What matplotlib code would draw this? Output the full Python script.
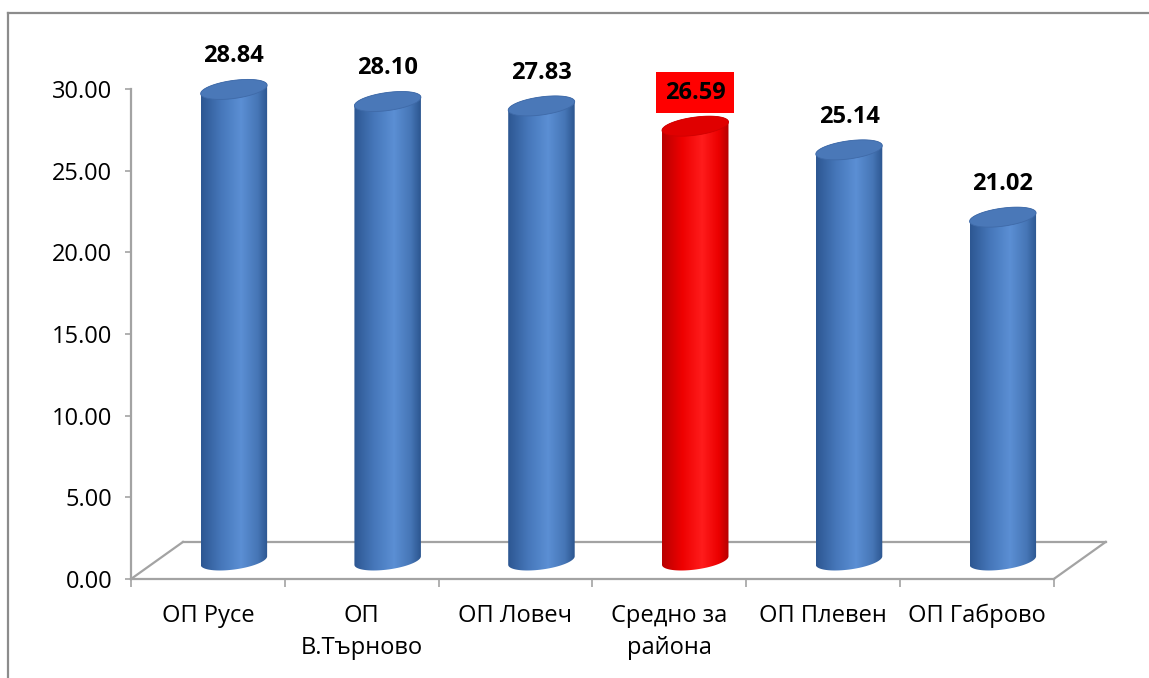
import numpy as np
import matplotlib
matplotlib.use("Agg")
import matplotlib.pyplot as plt
from matplotlib.colors import LinearSegmentedColormap
from matplotlib.patches import Polygon
from matplotlib.lines import Line2D

plt.rcParams['font.family'] = ['Open Sans', 'DejaVu Sans']

# данни
categories = ['ОП Русе', 'ОП\nВ.Търново', 'ОП Ловеч', 'Средно за\nрайона', 'ОП Плевен', 'ОП Габрово']
values = [28.84, 28.10, 27.83, 26.59, 25.14, 21.02]
highlight = [False, False, False, True, False, False]
yticks = [0, 5, 10, 15, 20, 25, 30]

# 3D наклон на пода (в единици категория / стойност)
DX, DY = 0.338, 2.27
RX, RD = 0.196, 0.27       # радиус по x и по дълбочина
GRAY = '#A3A3A3'
FS = 17

blue_cmap = LinearSegmentedColormap.from_list('b', [
    (0.0, '#2D5792'), (0.3, '#4677BA'), (0.6, '#5B8FD4'), (0.85, '#4676B6'), (1.0, '#2C5690')])
red_cmap = LinearSegmentedColormap.from_list('r', [
    (0.0, '#B80000'), (0.3, '#EE0000'), (0.6, '#FF1C1C'), (0.85, '#EC0000'), (1.0, '#B50000')])

fig = plt.figure(figsize=(11.49, 6.78), dpi=100)
ax = fig.add_axes([0.1140, 0.1460, 0.870, 0.795])
ax.set_xlim(0, 6.5)
ax.set_ylim(0, 33)


def ellipse(cx, cy, th):
    x = cx + RX * np.cos(th) + RD * DX * np.sin(th)
    y = cy + RD * DY * np.sin(th)
    return x, y


# под
n = len(categories)
ax.plot([DX, n + DX], [DY, DY], color=GRAY, lw=1.6, zorder=1, clip_on=False)
ax.plot([0, DX], [0, DY], color=GRAY, lw=1.6, zorder=1, clip_on=False)
ax.plot([n, n + DX], [0, DY], color=GRAY, lw=1.6, zorder=1, clip_on=False)

th0 = np.arctan2(RD * DX * 153.8, RX * 153.8)
for i, (v, hl) in enumerate(zip(values, highlight)):
    cx = i + 0.5 + DX / 2
    y0 = DY / 2
    y1 = v + DY / 2
    bx, by = ellipse(cx, y0, np.linspace(th0, th0 - np.pi, 60))
    tx, ty = ellipse(cx, y1, np.linspace(th0 - np.pi, th0 - 2 * np.pi, 60))
    body = Polygon(np.column_stack([np.r_[bx, tx], np.r_[by, ty]]),
                   closed=True, facecolor='none', edgecolor='none')
    ax.add_patch(body)
    xmin, xmax = np.r_[bx, tx].min(), np.r_[bx, tx].max()
    grad = np.linspace(0, 1, 200)[None, :]
    im = ax.imshow(grad, extent=[xmin, xmax, y0 - 1, y1 + 1], aspect='auto',
                   cmap=red_cmap if hl else blue_cmap, zorder=2, origin='lower',
                   interpolation='bilinear')
    im.set_clip_path(body)
    cx_, cy_ = ellipse(cx, y1, np.linspace(0, 2 * np.pi, 100))
    ax.add_patch(Polygon(np.column_stack([cx_, cy_]), closed=True,
                         facecolor='#E00000' if hl else '#4A78B8',
                         edgecolor='#D00000' if hl else '#3F6AA8', lw=0.6, zorder=3))

    box = dict(boxstyle='square,pad=0.36', fc='#FF0000', ec='none') if hl else None
    ax.annotate(f'{v:.2f}', (cx, y1), xytext=(0, 24), textcoords='offset points',
                ha='center', va='center', fontsize=FS, fontweight='bold',
                bbox=box, zorder=5, annotation_clip=False)

ax.set_xlim(0, 6.5)
ax.set_ylim(0, 33)

for s in ['top', 'right']:
    ax.spines[s].set_visible(False)
ax.spines['left'].set_bounds(0, 30)
ax.spines['bottom'].set_bounds(0, n)
for s in ['left', 'bottom']:
    ax.spines[s].set_color(GRAY)
    ax.spines[s].set_linewidth(1.6)
    ax.spines[s].set_zorder(1)

ax.set_yticks(yticks)
ax.set_yticklabels([f'{t:.2f}' for t in yticks])
ax.tick_params(axis='y', length=4.5, width=1.2, color=GRAY, pad=9, labelsize=FS)

ax.set_xticks(range(n + 1))
ax.set_xticklabels([])
ax.set_xticks(np.arange(n) + 0.5, minor=True)
ax.set_xticklabels(categories, minor=True)
ax.tick_params(axis='x', which='major', length=6, width=1.2, color=GRAY, direction='out')
ax.tick_params(axis='x', which='minor', length=0, pad=18, labelsize=FS)
for lab in ax.get_xticklabels(minor=True):
    lab.set_linespacing(1.45)

ax.patch.set_visible(False)

# рамка на диаграмата
fig.add_artist(Line2D([8 / 1149, 1.0], [1 - 12.5 / 678] * 2, transform=fig.transFigure,
                      color='#8C8C8C', lw=1.6))
fig.add_artist(Line2D([8 / 1149] * 2, [0, 1 - 12.5 / 678], transform=fig.transFigure,
                      color='#8C8C8C', lw=1.6))

fig.savefig('out.png', dpi=100)
